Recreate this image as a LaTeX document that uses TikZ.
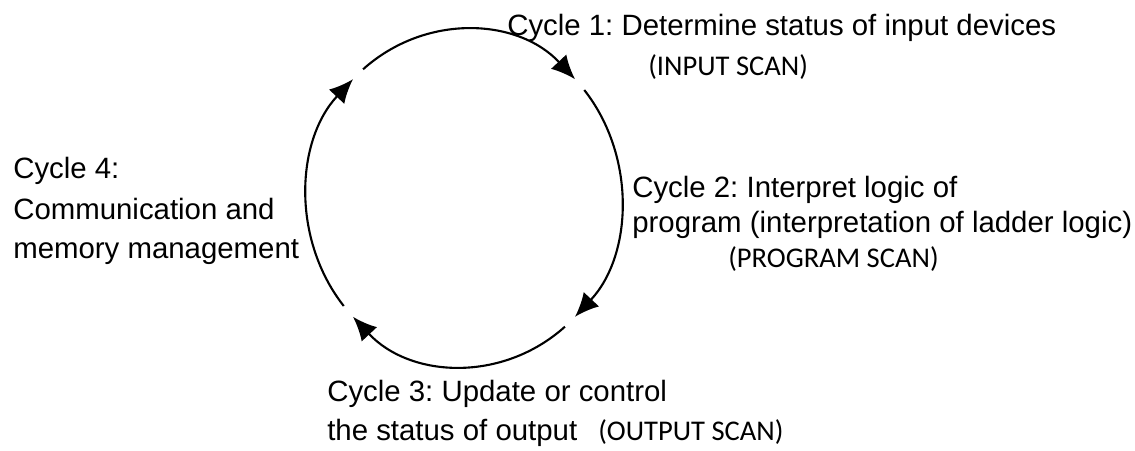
\documentclass[tikz,border=0pt]{standalone}
\usepackage{fontspec}
\setmainfont{Liberation Sans}
\newfontfamily\scanfont{Carlito}
\usepackage{tikz}
\usetikzlibrary{arrows.meta,positioning}
\frenchspacing

\tikzset{
	cycarc/.style={line width=1.5pt, -{Latex[length=17pt,width=15pt]}},
	lbl/.style={font=\fontsize{20.9}{25}\selectfont, inner sep=0pt, anchor=base west, align=left},
	scan/.style={font=\scanfont\fontsize{20.3}{25}\selectfont, inner sep=0pt, anchor=base west}
}

\begin{document}
\begin{tikzpicture}[x=0.025cm,y=0.025cm]
	\useasboundingbox (0,0) rectangle (1135,451);
	% Define margin to offset
	\def \margin {5}
	% Draw arcs of the scan cycle
	\begin{scope}[shift={(464,253)}]
		\foreach \a in {135,45,-45,-135}
			\draw[cycarc] ({\a-\margin}:157 and 168) arc[start angle={\a-\margin}, end angle={\a-90}, x radius=157, y radius=168];
	\end{scope}
	% Draw labels (base anchor sits on the last line)
	\node[lbl] (cyc1) at (507,415) {Cycle 1: Determine status of input devices};
	\node[scan] (scan1) at (648,375) {(INPUT SCAN)};
	\node[lbl] (cyc2) at (632,218) {Cycle 2: Interpret logic of\\program (interpretation of ladder logic)};
	\node[scan] (scan2) at (728,183) {(PROGRAM SCAN)};
	\node[lbl] (cyc3) at (327,10) {Cycle 3: Update or control\\[3pt]the status of output};
	\node[scan] (scan3) at (598,10) {(OUTPUT SCAN)};
	\node[lbl] (cyc4) at (13,192) {Cycle 4:\\[4pt]Communication and\\[3pt]memory management};
\end{tikzpicture}
\end{document}
